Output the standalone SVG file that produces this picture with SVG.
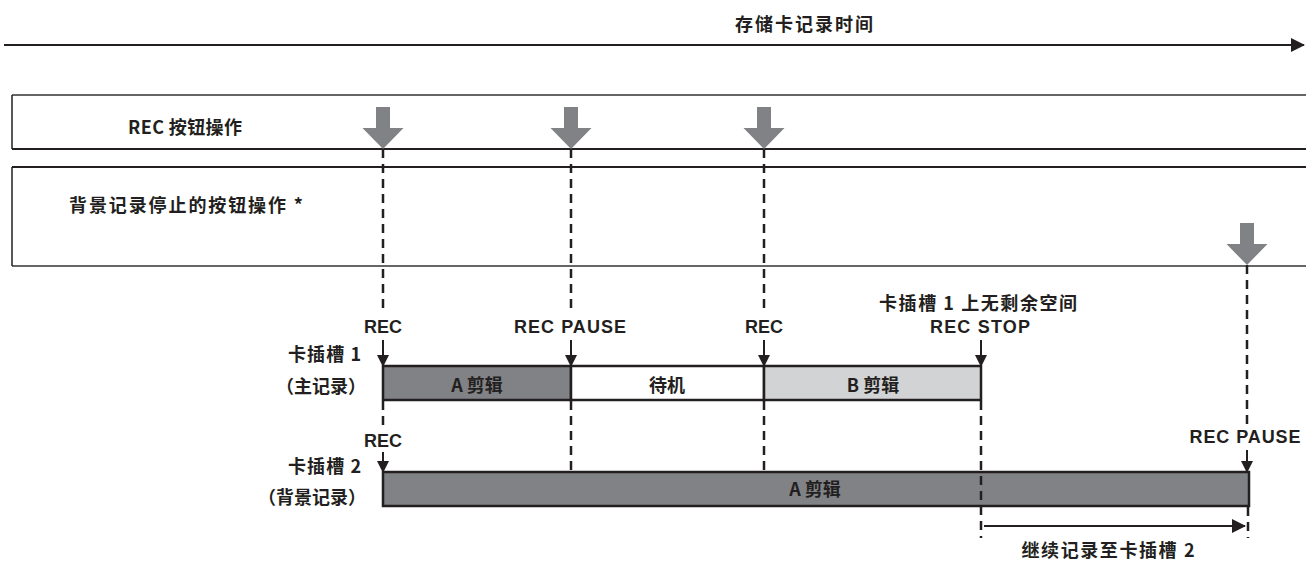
<svg xmlns="http://www.w3.org/2000/svg" width="1306" height="561" viewBox="0 0 1306 561">
<style>
.cjk{font-family:"Noto Sans CJK SC","Liberation Sans",sans-serif;font-weight:700;font-size:18px;fill:#231f20}
.lat{font-family:"Liberation Sans",Arial,sans-serif;font-weight:700;font-size:18px;fill:#231f20}
.mid{text-anchor:middle}
.end{text-anchor:end}
.dash{stroke:#231f20;stroke-width:2.5;stroke-dasharray:9 6;fill:none}
.sol{stroke:#231f20;stroke-width:2;fill:none}
.bar{stroke:#231f20;stroke-width:2.5}
.big{fill:#808285}
</style>
<defs>
<marker id="ah" viewBox="0 0 12 12" refX="11" refY="6" markerWidth="12" markerHeight="12" markerUnits="userSpaceOnUse" orient="auto">
<path d="M0,0 L12,6 L0,12 Z" fill="#231f20"/>
</marker>
<marker id="ah2" viewBox="0 0 14 14" refX="13" refY="7" markerWidth="14" markerHeight="14" markerUnits="userSpaceOnUse" orient="auto">
<path d="M0,0 L14,7 L0,14 Z" fill="#231f20"/>
</marker>
<path id="bigArrow" d="M-7,0 L7,0 L7,21 L20.5,21 L0,42 L-20.5,21 L-7,21 Z"/>
</defs>

<g id="timeline">
<line x1="4" y1="45" x2="1304" y2="45" stroke="#231f20" stroke-width="2.2" marker-end="url(#ah2)"/>
<text class="cjk" x="735" y="31" font-size="19" textLength="138">存储卡记录时间</text>
</g>

<g id="row-rec">
<line x1="12" y1="95" x2="1310" y2="95" stroke="#666" stroke-width="2"/>
<line x1="12" y1="149" x2="1310" y2="149" stroke="#231f20" stroke-width="2"/>
<line x1="12" y1="95" x2="12" y2="149" stroke="#231f20" stroke-width="1.5"/>
<text class="cjk" x="128" y="134" textLength="114">REC 按钮操作</text>
</g>

<g id="row-bg">
<line x1="12" y1="167" x2="1310" y2="167" stroke="#231f20" stroke-width="2"/>
<line x1="12" y1="266" x2="1310" y2="266" stroke="#666" stroke-width="2"/>
<line x1="12" y1="167" x2="12" y2="266" stroke="#231f20" stroke-width="1.5"/>
<text class="cjk" x="69" y="212" textLength="234">背景记录停止的按钮操作 *</text>
</g>

<g id="slot1">
<rect class="bar" x="383" y="366" width="188" height="34" fill="#808285"/>
<rect class="bar" x="571" y="366" width="193" height="34" fill="#ffffff"/>
<rect class="bar" x="764" y="366" width="217" height="34" fill="#d1d3d4"/>
<text class="cjk mid" x="477" y="392">A 剪辑</text>
<text class="cjk mid" x="667" y="392">待机</text>
<text class="cjk mid" x="873" y="392">B 剪辑</text>
<text class="cjk end" x="361" y="361" textLength="73">卡插槽 1</text>
<text class="cjk end" x="366" y="393">（主记录）</text>
</g>

<g id="slot2">
<rect class="bar" x="383" y="472" width="866" height="34" fill="#808285"/>
<text class="cjk mid" x="815" y="496">A 剪辑</text>
<text class="cjk end" x="361" y="473" textLength="73">卡插槽 2</text>
<text class="cjk end" x="366" y="504">（背景记录）</text>
</g>

<g id="labels">
<text class="lat mid" x="383" y="333">REC</text>
<text class="lat mid" x="570" y="333" textLength="112">REC PAUSE</text>
<text class="lat mid" x="764" y="333">REC</text>
<text class="cjk mid" x="978" y="310" textLength="198">卡插槽 1 上无剩余空间</text>
<text class="lat mid" x="980" y="333" textLength="100">REC STOP</text>
<text class="lat mid" x="383" y="447">REC</text>
<text class="lat mid" x="1245" y="443" textLength="111">REC PAUSE</text>
<text class="cjk mid" x="1108" y="557" textLength="173">继续记录至卡插槽 2</text>
</g>

<g id="buttons">
<use href="#bigArrow" class="big" x="383" y="107"/>
<use href="#bigArrow" class="big" x="571" y="107"/>
<use href="#bigArrow" class="big" x="764" y="107"/>
<use href="#bigArrow" class="big" x="1247" y="223"/>
</g>

<g id="connectors">
<line class="dash" x1="383" y1="149" x2="383" y2="312"/>
<line class="dash" x1="571" y1="149" x2="571" y2="312"/>
<line class="dash" x1="764" y1="149" x2="764" y2="312"/>
<line class="dash" x1="383" y1="401" x2="383" y2="428"/>
<line class="dash" x1="571" y1="401" x2="571" y2="472"/>
<line class="dash" x1="764" y1="401" x2="764" y2="472"/>
<line class="dash" x1="981" y1="401" x2="981" y2="538"/>
<line class="dash" x1="1247" y1="265" x2="1247" y2="425"/>
<line class="dash" x1="1248" y1="507" x2="1248" y2="538"/>
<line class="sol" x1="383" y1="340" x2="383" y2="366" marker-end="url(#ah)"/>
<line class="sol" x1="571" y1="340" x2="571" y2="366" marker-end="url(#ah)"/>
<line class="sol" x1="764" y1="340" x2="764" y2="366" marker-end="url(#ah)"/>
<line class="sol" x1="981" y1="340" x2="981" y2="366" marker-end="url(#ah)"/>
<line class="sol" x1="383" y1="452" x2="383" y2="472" marker-end="url(#ah)"/>
<line class="sol" x1="1247" y1="450" x2="1247" y2="472" marker-end="url(#ah)"/>
<line class="sol" x1="984" y1="526" x2="1245" y2="526" marker-end="url(#ah2)"/>
</g>
</svg>
